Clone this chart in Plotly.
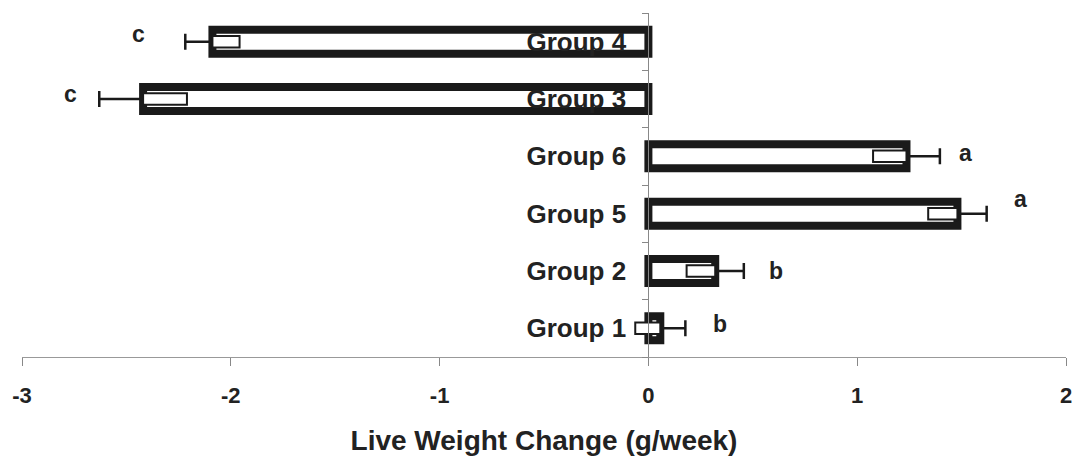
import plotly.graph_objects as go

groups = ["Group 1", "Group 2", "Group 5", "Group 6", "Group 3", "Group 4"]
means = [0.057, 0.32, 1.48, 1.236, -2.42, -2.088]
sems = [0.12, 0.137, 0.14, 0.16, 0.21, 0.13]
letters = ["b", "b", "a", "a", "c", "c"]
letter_x = [0.345, 0.61, 1.78, 1.52, -2.77, -2.44]
letter_shift = [4, 0, 15, 3, 5, 8]
x_ticks = [-3, -2, -1, 0, 1, 2]
x_ticktext = ["-3", "-2", "-1", "0", "1", "2"]

font_family = "Liberation Sans, Arial, sans-serif"
ink = "#1a1a1a"

# outward half of the error bar (away from zero) is drawn as a plain whisker
err_plus = [s if m >= 0 else 0 for m, s in zip(means, sems)]
err_minus = [0 if m >= 0 else s for m, s in zip(means, sems)]
# inward half of the error bar, drawn inside the bar as a small outlined box
inner_base = [m - s if m >= 0 else m for m, s in zip(means, sems)]

fig = go.Figure()
fig.add_trace(go.Bar(
    y=groups, x=means, orientation="h",
    marker=dict(color="white", line=dict(color=ink, width=8)),
    error_x=dict(type="data", symmetric=False, array=err_plus,
                 arrayminus=err_minus, visible=True, color=ink,
                 thickness=2.5, width=8),
    showlegend=False, hoverinfo="skip",
))
fig.add_trace(go.Bar(
    y=groups, x=sems, base=inner_base, orientation="h", width=0.2,
    marker=dict(color="white", line=dict(color=ink, width=2)),
    showlegend=False, hoverinfo="skip",
))

annotations = []
for g, t, lx, ys in zip(groups, letters, letter_x, letter_shift):
    annotations.append(dict(
        x=lx, y=g, text=f"<b>{t}</b>", showarrow=False, yshift=ys,
        font=dict(family=font_family, size=23, color="#222"),
        xanchor="center", yanchor="middle",
    ))

fig.update_layout(
    width=1073, height=458,
    margin=dict(l=14, r=15, t=5, b=109),
    paper_bgcolor="white", plot_bgcolor="white",
    barmode="overlay",
    bargap=0.58,
    annotations=annotations,
    xaxis=dict(
        range=[-3, 2], tickvals=x_ticks, ticktext=x_ticktext,
        showgrid=False, zeroline=False,
        showline=True, linecolor="#999", linewidth=1,
        ticks="outside", ticklen=8, tickcolor="#888",
        tickfont=dict(family=font_family, size=22, color="#222", weight="bold"),
        ticklabelstandoff=11,
        title=dict(text="<b>Live Weight Change (g/week)</b>",
                   font=dict(family=font_family, size=28, color="#222"),
                   standoff=22),
        fixedrange=True,
    ),
    yaxis=dict(
        type="category", categoryorder="array", categoryarray=groups,
        anchor="free", position=0.6,
        showgrid=False, zeroline=False,
        showline=True, linecolor="#888", linewidth=1,
        ticks="outside", ticklen=6, tickcolor="#888", tickson="boundaries",
        tickfont=dict(family=font_family, size=26, color="#222", weight="bold"),
        ticklabelstandoff=17,
        fixedrange=True,
    ),
)

fig.write_html("out.html")
